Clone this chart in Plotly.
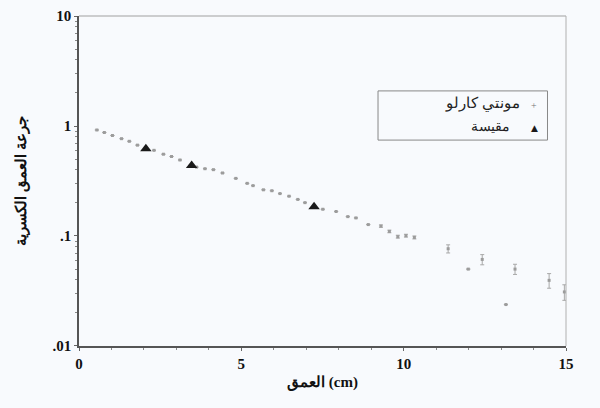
import plotly.graph_objects as go

# Monte Carlo depth-dose (fractional depth dose vs depth in cm)
mc_depth = [0.55, 0.78, 1.03, 1.31, 1.55, 1.80, 2.31, 2.60, 2.85, 3.11, 3.62, 3.88,
            4.14, 4.42, 4.83, 5.18, 5.36, 5.68, 5.94, 6.19, 6.47, 6.74, 6.96, 7.51,
            7.92, 8.28, 8.53, 8.91, 9.30, 9.56, 9.82, 10.07, 10.33,
            11.37, 11.99, 12.42, 13.15, 13.43, 14.48, 14.95]
mc_dose = [0.92, 0.873, 0.82, 0.767, 0.726, 0.67, 0.601, 0.554, 0.528, 0.491, 0.423, 0.409,
           0.401, 0.374, 0.334, 0.301, 0.287, 0.263, 0.258, 0.243, 0.23, 0.215, 0.201, 0.175,
           0.167, 0.15, 0.146, 0.127, 0.123, 0.110, 0.0986, 0.1007, 0.097,
           0.0766, 0.05, 0.0612, 0.0238, 0.05, 0.0395, 0.031]
mc_err = [0.0, 0.0, 0.0, 0.0, 0.0, 0.0, 0.0, 0.0, 0.0, 0.0, 0.0, 0.0,
          0.0, 0.0, 0.0, 0.0, 0.0, 0.0, 0.0, 0.0, 0.0, 0.0, 0.0, 0.0,
          0.0, 0.0, 0.0, 0.0, 0.003, 0.003, 0.003, 0.003, 0.003,
          0.0065, 0.0, 0.0065, 0.0, 0.0053, 0.006, 0.005]

# Measured values
meas_depth = [2.06, 3.47, 7.24]
meas_dose = [0.621, 0.438, 0.184]

y_tickvals = [0.01, 0.1, 1, 10]
y_ticktext = [".01", ".1", "1", "10"]
x_tickvals = [0, 5, 10, 15]
x_ticktext = ["0", "5", "10", "15"]

mc_name = "مونتي كارلو"
meas_name = "مقيسة"
x_title = "العمق (cm)"
y_title = "جرعة العمق الكسرية"

font_family = "Liberation Serif"

fig = go.Figure()

fig.add_trace(go.Scatter(
    x=mc_depth, y=mc_dose, mode="markers", name=mc_name,
    marker=dict(symbol="square", size=3, color="#9c9c9c", line=dict(width=0)),
    error_y=dict(type="data", array=mc_err, visible=True, color="#a8a8a8",
                 thickness=1, width=2),
    showlegend=False,
))

fig.add_trace(go.Scatter(
    x=meas_depth, y=meas_dose, mode="markers", name=meas_name,
    marker=dict(symbol="triangle-up", size=10, color="#1a1a1a"),
    showlegend=False,
))

# minor ticks for the log axis
y_minor = [m * 10 ** e for e in (-2, -1, 0) for m in range(2, 10)]

fig.update_layout(
    width=600, height=408,
    margin=dict(l=79, r=34, t=8, b=62),
    paper_bgcolor="#f8fafd",
    plot_bgcolor="#f8fafd",
    font=dict(family=font_family, size=14, color="#111111"),
    xaxis=dict(
        range=[0, 15.0001], tickmode="array", tickvals=x_tickvals, ticktext=x_ticktext,
        showgrid=False, zeroline=False,
        showline=True, linecolor="#555555", linewidth=1.5, mirror=False,
        ticks="outside", ticklen=3, tickcolor="#666666",
        ticklabeloverflow="allow",
        minor=dict(tickmode="linear", tick0=0, dtick=1, ticks="outside",
                   ticklen=2, tickcolor="#888888"),
        tickfont=dict(family=font_family, size=15, color="#111111", weight="bold"),
        title=dict(text=x_title, standoff=6,
                   font=dict(family=font_family, size=15, color="#111111", weight="bold")),
    ),
    yaxis=dict(
        type="log", range=[-2.0003, 1.0003], tickmode="array",
        tickvals=y_tickvals, ticktext=y_ticktext,
        showgrid=False, zeroline=False,
        showline=True, linecolor="#555555", linewidth=1.5,
        ticks="outside", ticklen=3, tickcolor="#666666",
        ticklabeloverflow="allow",
        minor=dict(tickmode="array", tickvals=y_minor, ticks="outside",
                   ticklen=2, tickcolor="#888888"),
        tickfont=dict(family=font_family, size=15, color="#111111", weight="bold"),
        title=dict(text=y_title, standoff=22,
                   font=dict(family=font_family, size=15, color="#111111", weight="bold")),
    ),
    showlegend=False,
)

# light frame on the top and right sides
fig.add_shape(type="line", xref="paper", yref="paper", x0=0, x1=1, y0=1, y1=1,
              line=dict(color="#a0a0a0", width=1))
fig.add_shape(type="line", xref="paper", yref="paper", x0=1, x1=1, y0=0, y1=1,
              line=dict(color="#b0b0b0", width=1))

# legend box with right-to-left entries
fig.add_shape(type="rect", xref="paper", yref="paper",
              x0=0.614, x1=0.962, y0=0.624, y1=0.773,
              line=dict(color="#888888", width=1), fillcolor="rgba(0,0,0,0)")
fig.add_annotation(xref="paper", yref="paper", x=0.91, y=0.735, text=mc_name,
                   showarrow=False, xanchor="right", yanchor="middle",
                   font=dict(family=font_family, size=15, color="#222222"))
fig.add_annotation(xref="paper", yref="paper", x=0.935, y=0.728, text="+",
                   showarrow=False, xanchor="center", yanchor="middle",
                   font=dict(family=font_family, size=10, color="#777777"))
fig.add_annotation(xref="paper", yref="paper", x=0.889, y=0.665, text=meas_name,
                   showarrow=False, xanchor="right", yanchor="middle",
                   font=dict(family=font_family, size=14, color="#222222"))
fig.add_annotation(xref="paper", yref="paper", x=0.935, y=0.662, text="▲",
                   showarrow=False, xanchor="center", yanchor="middle",
                   font=dict(family="DejaVu Sans", size=9, color="#1a1a1a"))

fig.write_html("out.html")
